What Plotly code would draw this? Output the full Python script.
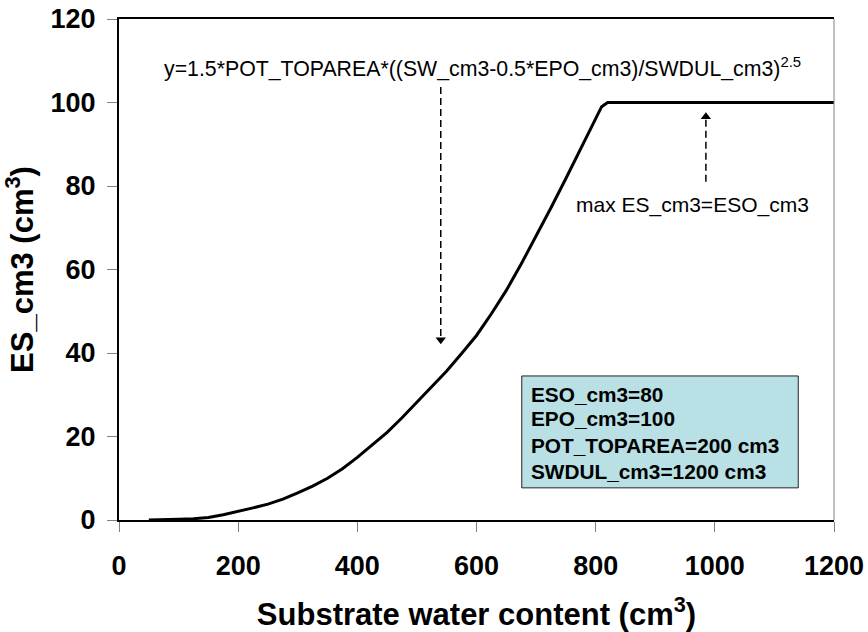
import plotly.graph_objects as go

# Substrate water content (cm3) and soil evaporation ES_cm3 (cm3)
sw_cm3 = [50, 75, 100, 125, 150, 175, 200, 225, 250, 275, 300, 325, 350,
          375, 400, 425, 450, 475, 500, 525, 550, 575, 600, 625, 650, 675,
          700, 725, 750, 775, 800, 810, 820, 900, 1000, 1100, 1200]
es_cm3 = [0, 0.03, 0.15, 0.3, 0.6, 1.25, 2.0, 2.9, 3.8, 5.0, 6.5, 8.1, 10.0,
          12.3, 15.0, 17.9, 21.0, 24.5, 28.2, 31.9, 35.7, 39.9, 44.2, 49.4,
          55.0, 61.3, 67.9, 74.8, 81.8, 88.8, 96.0, 99.0, 100, 100, 100, 100, 100]

x_ticks = [0, 200, 400, 600, 800, 1000, 1200]
y_ticks = [0, 20, 40, 60, 80, 100, 120]

param_lines = ["ESO_cm3=80", "EPO_cm3=100", "POT_TOPAREA=200 cm3", "SWDUL_cm3=1200 cm3"]

FONT = "Liberation Sans, Arial, sans-serif"

fig = go.Figure()
fig.add_trace(go.Scatter(x=sw_cm3, y=es_cm3, mode="lines",
                         line=dict(color="black", width=3),
                         showlegend=False, hoverinfo="skip"))

# arrow heads of the two dashed pointers
fig.add_trace(go.Scatter(x=[540], y=[43.2], mode="markers",
                         marker=dict(symbol="triangle-down", size=9, color="black"),
                         showlegend=False, hoverinfo="skip"))
fig.add_trace(go.Scatter(x=[985], y=[96.6], mode="markers",
                         marker=dict(symbol="triangle-up", size=9, color="black"),
                         showlegend=False, hoverinfo="skip"))

shapes = [
    # dashed pointer to the curve
    dict(type="line", xref="x", yref="y", x0=540, x1=540, y0=103.7, y1=44,
         line=dict(color="black", width=1.5, dash="7px,4px")),
    # dashed pointer to the plateau
    dict(type="line", xref="x", yref="y", x0=985, x1=985, y0=81, y1=96,
         line=dict(color="black", width=1.5, dash="7px,4px")),
    # parameter box
    dict(type="rect", xref="x", yref="y", x0=676, x1=1140, y0=7.7, y1=34.5,
         fillcolor="#B9E0E4", line=dict(color="#222222", width=1)),
    # right frame edge
    dict(type="line", xref="paper", yref="paper", x0=1, x1=1, y0=0, y1=1,
         line=dict(color="#808080", width=1)),
]

annotations = [
    dict(x=72, y=108.3, xref="x", yref="y", xanchor="left", yanchor="middle",
         showarrow=False,
         text="y=1.5*POT_TOPAREA*((SW_cm3-0.5*EPO_cm3)/SWDUL_cm3)<sup>2.5</sup>",
         font=dict(family=FONT, size=21.3, color="black")),
    dict(x=963, y=75.4, xref="x", yref="y", xanchor="center", yanchor="middle",
         showarrow=False, text="max ES_cm3=ESO_cm3",
         font=dict(family=FONT, size=21, color="black")),
]

line_y = [30.0, 24.2, 17.9, 11.7]
for txt, yy in zip(param_lines, line_y):
    annotations.append(dict(x=688, y=yy, xref="x", yref="y", xanchor="left",
                            yanchor="middle", showarrow=False, text=f"<b>{txt}</b>",
                            font=dict(family=FONT, size=20.8, color="black")))

fig.update_layout(
    width=868, height=632,
    margin=dict(l=119, r=34, t=19, b=112),
    plot_bgcolor="white", paper_bgcolor="white",
    font=dict(family=FONT, color="black"),
    shapes=shapes, annotations=annotations,
    xaxis=dict(range=[0, 1200], tickvals=x_ticks, showgrid=False, zeroline=False,
               showline=True, linecolor="black", linewidth=1.5, mirror=True,
               ticks="outside", ticklen=10, tickcolor="#808080", tickwidth=1,
               tickfont=dict(family=FONT, size=27, color="black", weight="bold"),
               ticklabelstandoff=11, automargin=False,
               title=dict(text="<b>Substrate water content (cm<sup>3</sup>)</b>",
                          font=dict(family=FONT, size=31, color="black"), standoff=26)),
    yaxis=dict(range=[0, 120], tickvals=y_ticks, showgrid=False, zeroline=False,
               showline=True, linecolor="black", linewidth=2,
               ticks="outside", ticklen=10, tickcolor="#808080", tickwidth=1,
               tickfont=dict(family=FONT, size=27, color="black", weight="bold"),
               ticklabelstandoff=6, automargin=False,
               title=dict(text="<b>ES_cm3 (cm<sup>3</sup>)</b>",
                          font=dict(family=FONT, size=31, color="black"), standoff=10)),
)

fig.write_html("out.html")
